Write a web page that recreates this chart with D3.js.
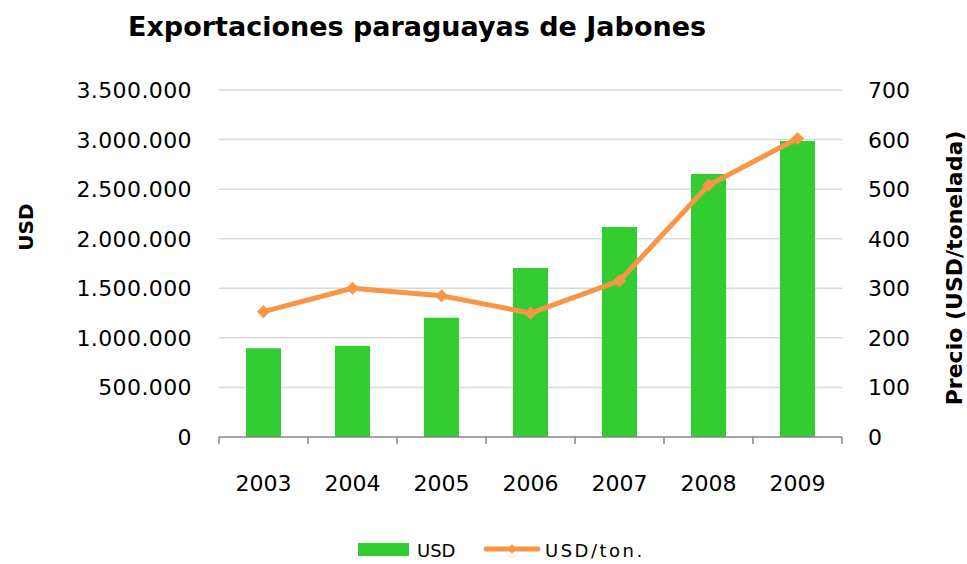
<!DOCTYPE html>
<html>
<head>
<meta charset="utf-8">
<script src="https://cdn.jsdelivr.net/npm/d3@7"></script>
<style>
  body { margin: 0; background: #fff; }
  text { font-family: 'DejaVu Sans', Verdana, sans-serif; fill: #000; }
</style>
</head>
<body>
<div id="root"></div>
<script>
const years = ['2003', '2004', '2005', '2006', '2007', '2008', '2009']
const usd = [895000, 918000, 1203000, 1705000, 2118000, 2653000, 2986000]
const usdPerTon = [253, 300, 285, 250, 315, 508, 602]
const leftTicks = [0, 500000, 1000000, 1500000, 2000000, 2500000, 3000000, 3500000]
const rightTicks = [0, 100, 200, 300, 400, 500, 600, 700]

const width = 967
const height = 564
const margin = { top: 90, right: 125, bottom: 127, left: 219 }

const svg = d3.select('#root').append('svg')
  .attr('width', width)
  .attr('height', height)

const xScale = d3.scaleBand()
  .domain(years)
  .range([margin.left, width - margin.right])
const yLeft = d3.scaleLinear()
  .domain([0, 3500000])
  .range([height - margin.bottom, margin.top])
const yRight = d3.scaleLinear()
  .domain([0, 700])
  .range([height - margin.bottom, margin.top])

const fmt = v => d3.format(',')(v).replace(/,/g, '.')

// gridlines
svg.append('g')
  .selectAll('line')
  .data(leftTicks.slice(1))
  .join('line')
  .attr('x1', margin.left)
  .attr('x2', width - margin.right)
  .attr('y1', d => yLeft(d))
  .attr('y2', d => yLeft(d))
  .style('stroke', '#d9d9d9')
  .style('stroke-width', 1.5)

// bars
const barW = 35
svg.append('g')
  .selectAll('rect')
  .data(years)
  .join('rect')
  .attr('x', d => xScale(d) + xScale.bandwidth() / 2 - barW / 2)
  .attr('y', (d, i) => yLeft(usd[i]))
  .attr('width', barW)
  .attr('height', (d, i) => yLeft(0) - yLeft(usd[i]))
  .attr('fill', '#33cc33')

// x axis
const base = yLeft(0)
const xAxis = svg.append('g')
xAxis.append('line')
  .attr('x1', margin.left).attr('x2', width - margin.right)
  .attr('y1', base).attr('y2', base)
  .style('stroke', '#868686').style('stroke-width', 1.5)
const bounds = years.map(d => xScale(d)).concat([width - margin.right])
xAxis.selectAll('line.tick')
  .data(bounds)
  .join('line')
  .attr('class', 'tick')
  .attr('x1', d => d).attr('x2', d => d)
  .attr('y1', base).attr('y2', base + 7)
  .style('stroke', '#868686').style('stroke-width', 1.5)
xAxis.selectAll('text')
  .data(years)
  .join('text')
  .attr('x', d => xScale(d) + xScale.bandwidth() / 2)
  .attr('y', 491)
  .attr('text-anchor', 'middle')
  .style('font-size', '22px')
  .text(d => d)

// left axis labels
svg.append('g')
  .selectAll('text')
  .data(leftTicks)
  .join('text')
  .attr('x', 192)
  .attr('y', d => yLeft(d) + 8)
  .attr('text-anchor', 'end')
  .style('font-size', '22px')
  .style('letter-spacing', '0.4px')
  .text(d => fmt(d))

// right axis labels
svg.append('g')
  .selectAll('text')
  .data(rightTicks)
  .join('text')
  .attr('x', 868)
  .attr('y', d => yRight(d) + 8)
  .attr('text-anchor', 'start')
  .style('font-size', '22px')
  .text(d => d)

// line + markers
const line = d3.line()
  .x((d, i) => xScale(years[i]) + xScale.bandwidth() / 2)
  .y(d => yRight(d))
svg.append('path')
  .datum(usdPerTon)
  .attr('d', line)
  .attr('fill', 'none')
  .style('stroke', '#f79646')
  .style('stroke-width', 5)
  .style('stroke-linejoin', 'round')
svg.append('g')
  .selectAll('path')
  .data(usdPerTon)
  .join('path')
  .attr('d', d3.symbol(d3.symbolDiamond2, 110))
  .attr('transform', (d, i) => `translate(${xScale(years[i]) + xScale.bandwidth() / 2},${yRight(d)})`)
  .attr('fill', '#f79646')

// titles
svg.append('text')
  .attr('x', 417)
  .attr('y', 36)
  .attr('text-anchor', 'middle')
  .style('font-size', '27px')
  .style('font-weight', 'bold')
  .text('Exportaciones paraguayas de Jabones')
svg.append('text')
  .attr('transform', 'translate(33,227) rotate(-90)')
  .attr('text-anchor', 'middle')
  .style('font-size', '20px')
  .style('font-weight', 'bold')
  .text('USD')
svg.append('text')
  .attr('transform', 'translate(962,268) rotate(-90)')
  .attr('text-anchor', 'middle')
  .style('font-size', '22px')
  .style('font-weight', 'bold')
  .text('Precio (USD/tonelada)')

// legend
const legend = svg.append('g')
legend.append('rect')
  .attr('x', 358).attr('y', 543)
  .attr('width', 51).attr('height', 13)
  .attr('fill', '#33cc33')
legend.append('text')
  .attr('x', 417).attr('y', 557)
  .style('font-size', '18px')
  .text('USD')
legend.append('line')
  .attr('x1', 486).attr('x2', 538)
  .attr('y1', 549).attr('y2', 549)
  .style('stroke', '#f79646').style('stroke-width', 5)
  .style('stroke-linecap', 'round')
legend.append('path')
  .attr('d', d3.symbol(d3.symbolDiamond2, 60))
  .attr('transform', 'translate(512,549)')
  .attr('fill', '#f79646')
legend.append('text')
  .attr('x', 545).attr('y', 557)
  .style('font-size', '18px')
  .style('letter-spacing', '2.5px')
  .text('USD/ton.')
</script>
</body>
</html>
